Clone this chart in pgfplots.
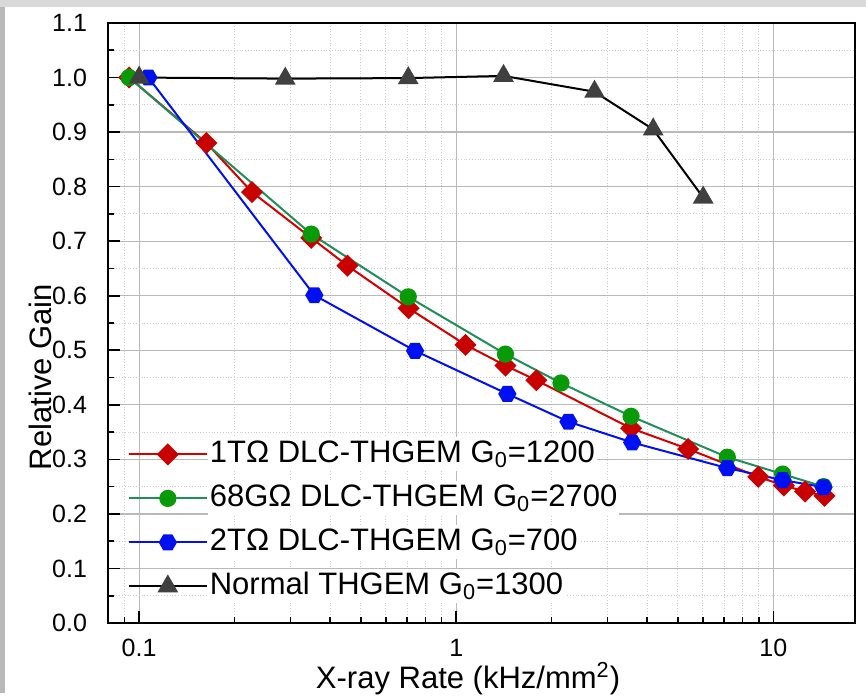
\documentclass[border=0pt]{standalone}
\usepackage{fontspec}
\setmainfont{Liberation Sans}
\usepackage{pgfplots}
\pgfplotsset{compat=1.18}
\usetikzlibrary{plotmarks}

\definecolor{c1red}{HTML}{D40000}
\definecolor{c1dia}{HTML}{C80000}
\definecolor{c2line}{HTML}{1E8E5A}
\definecolor{c2dot}{HTML}{089A08}
\definecolor{c3blue}{HTML}{0010F0}
\definecolor{c4tri}{HTML}{404040}

% hexagon marker for the 2TOhm series
\pgfdeclareplotmark{hexagon*}{%
  \pgfpathmoveto{\pgfqpointpolar{0}{\pgfplotmarksize}}%
  \pgfpathlineto{\pgfqpointpolar{60}{\pgfplotmarksize}}%
  \pgfpathlineto{\pgfqpointpolar{120}{\pgfplotmarksize}}%
  \pgfpathlineto{\pgfqpointpolar{180}{\pgfplotmarksize}}%
  \pgfpathlineto{\pgfqpointpolar{240}{\pgfplotmarksize}}%
  \pgfpathlineto{\pgfqpointpolar{300}{\pgfplotmarksize}}%
  \pgfpathclose
  \pgfusepathqfillstroke}

\begin{document}
\begin{tikzpicture}[x=1pt,y=1pt]
% page background with the grey frame of the screenshot
\fill[white] (0,0) rectangle (433,346.5);
\fill[gray!55] (0,0) rectangle (2.5,346.5);
\fill[gray!30] (0,343.2) rectangle (433,346.5);
\begin{axis}[
  at={(54pt,35pt)}, anchor=south west,
  scale only axis,
  width=373.5pt, height=300pt,
  xmode=log,
  xmin=0.0798, xmax=18.1,
  ymin=0, ymax=1.1,
  xtick={0.1,1,10},
  xticklabels={{0.1},{1},{10}},
  minor xtick={0.09,0.2,0.3,0.4,0.5,0.6,0.7,0.8,0.9,2,3,4,5,6,7,8,9},
  ytick={0,0.1,...,1.1},
  minor y tick num=1,
  tick pos=left,
  major tick length=6pt, minor tick length=3pt,
  tick style={black, line width=0.8pt},
  axis line style={line width=1pt},
  grid=both,
  major grid style={gray!55, line width=0.6pt},
  minor grid style={gray!40, densely dotted, line width=0.5pt},
  /pgf/number format/assume math mode=true,
  yticklabel style={/pgf/number format/fixed, /pgf/number format/fixed zerofill,
    /pgf/number format/precision=1, xshift=-7pt},
  ticklabel style={font=\fontsize{12.5}{14}\selectfont},
  xticklabel style={inner sep=0.5pt, yshift=-7.5pt},
  xlabel={X-ray Rate (kHz/mm\textsuperscript{2})},
  ylabel={Relative Gain},
  label style={font=\fontsize{15.5}{18}\selectfont},
  xlabel style={at={(axis description cs:0.482,0)}, anchor=base, inner sep=0.5pt, yshift=-32.5pt},
  ylabel style={at={(axis description cs:-0.0763,0.41)}, anchor=base, inner sep=1pt},
  legend cell align=left,
  legend style={
    at={(axis description cs:0.018,0.022)}, anchor=south west,
    draw=none, fill=none,
    font=\fontsize{15.5}{18}\selectfont,
    nodes={inner sep=1pt, text height=11.5pt, text depth=3.5pt, fill=white},
    row sep=5pt, inner sep=3pt,
  },
  legend image code/.code={%
    \draw[mark repeat=2, mark phase=2, #1]
      plot coordinates {(0pt,0pt) (19.5pt,0pt) (39pt,0pt)};},
]
% 1 TOhm DLC-THGEM
\addplot[c1red, line width=1pt, mark=square*, mark size=3.4pt,
  mark options={rotate=45, fill=c1dia, draw=c1dia, solid}] coordinates {
  (0.093,1.000) (0.163,0.880) (0.227,0.790) (0.349,0.706) (0.454,0.655)
  (0.708,0.577) (1.07,0.510) (1.43,0.472) (1.79,0.445) (3.56,0.357)
  (5.39,0.319) (8.97,0.268) (10.8,0.252) (12.6,0.241) (14.5,0.233)
};
% 68 GOhm DLC-THGEM
\addplot[c2line, line width=1pt, mark=*, mark size=3.8pt,
  mark options={fill=c2dot, draw=c2dot}] coordinates {
  (0.093,1.000) (0.349,0.713) (0.706,0.598) (1.43,0.493) (2.14,0.440)
  (3.56,0.379) (7.16,0.304) (10.7,0.273) (14.4,0.250)
};
% 2 TOhm DLC-THGEM
\addplot[c3blue, line width=1pt, mark=hexagon*, mark size=4pt,
  mark options={fill=c3blue, draw=c3blue}] coordinates {
  (0.107,1.000) (0.357,0.601) (0.742,0.499) (1.45,0.420) (2.26,0.369)
  (3.59,0.331) (7.16,0.284) (10.7,0.262) (14.4,0.249)
};
% normal THGEM
\addplot[black, line width=1pt, mark=triangle*, mark size=5pt,
  mark options={fill=c4tri, draw=c4tri}] coordinates {
  (0.100,1.000) (0.289,0.998) (0.706,0.999) (1.41,1.003) (2.73,0.974)
  (4.18,0.905) (6.01,0.780)
};
\legend{1TΩ DLC-THGEM G\textsubscript{0}=1200,
        68GΩ DLC-THGEM G\textsubscript{0}=2700,
        2TΩ DLC-THGEM G\textsubscript{0}=700,
        Normal THGEM G\textsubscript{0}=1300}
\end{axis}
\end{tikzpicture}
\end{document}
